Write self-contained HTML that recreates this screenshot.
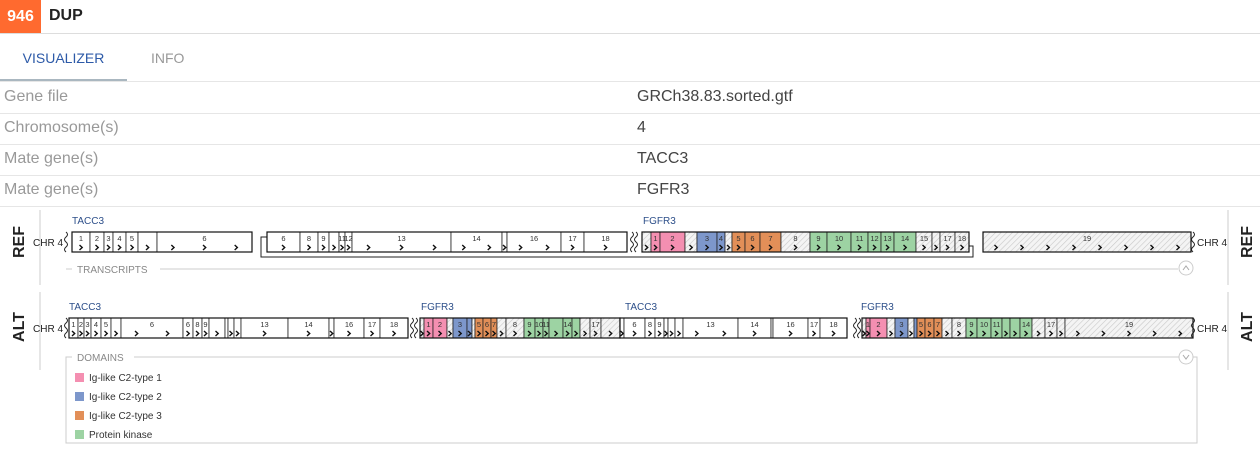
<!DOCTYPE html>
<html><head><meta charset="utf-8">
<style>
body{margin:0;width:1260px;height:459px;background:#fff;font-family:"Liberation Sans",sans-serif;overflow:hidden;position:relative}
.abs{position:absolute}
.row{position:absolute;left:0;width:1260px;height:31px;border-bottom:1px solid #e6e6e6;font-size:16px}
.row .k{position:absolute;left:4px;top:6px;color:#999}
.row .v{position:absolute;left:637px;top:6px;color:#444}
</style></head><body>
<div class="abs" style="left:0;top:0;width:1260px;height:33px;border-bottom:1px solid #ddd">
 <div class="abs" style="left:0;top:0;width:41px;height:33px;background:#ff6a2f;color:#fff;font-weight:bold;font-size:16px;line-height:33px;text-align:center">946</div>
 <div class="abs" style="left:49px;top:7px;font-weight:bold;font-size:16px;color:#222">DUP</div>
</div>
<div class="abs" style="left:0;top:50px;width:127px;height:29px;border-bottom:2px solid #aab7c0;color:#2d5aa8;font-size:14px;text-align:center">VISUALIZER</div>
<div class="abs" style="left:151px;top:50px;color:#999;font-size:14px">INFO</div>
<div class="abs" style="left:0;top:81px;width:1260px;border-top:1px solid #e6e6e6"></div>
<div class="row" style="top:82px"><span class="k">Gene file</span><span class="v">GRCh38.83.sorted.gtf</span></div>
<div class="row" style="top:113px"><span class="k">Chromosome(s)</span><span class="v">4</span></div>
<div class="row" style="top:144px"><span class="k">Mate gene(s)</span><span class="v">TACC3</span></div>
<div class="row" style="top:175px"><span class="k">Mate gene(s)</span><span class="v">FGFR3</span></div>

<svg id="viz" class="abs" style="left:0;top:0" width="1260" height="459" font-family="Liberation Sans, sans-serif">
<defs>
<pattern id="hatch" width="4" height="4" patternUnits="userSpaceOnUse" patternTransform="rotate(45)">
<rect width="4" height="4" fill="#f4f4f4"/><line x1="0" y1="0" x2="0" y2="4" stroke="#c8c8c8" stroke-width="1.2"/></pattern>
</defs>
<g>
<text x="24" y="242" transform="rotate(-90 24 242)" text-anchor="middle" font-size="16" font-weight="bold" fill="#222">REF</text>
<line x1="40" y1="210" x2="40" y2="285" stroke="#ccc"/>
<text x="1252" y="242" transform="rotate(-90 1252 242)" text-anchor="middle" font-size="16" font-weight="bold" fill="#222">REF</text>
<line x1="1228" y1="210" x2="1228" y2="285" stroke="#ccc"/>
</g>
<g>
<text x="24" y="327" transform="rotate(-90 24 327)" text-anchor="middle" font-size="16" font-weight="bold" fill="#222">ALT</text>
<line x1="40" y1="292" x2="40" y2="370" stroke="#ccc"/>
<text x="1252" y="327" transform="rotate(-90 1252 327)" text-anchor="middle" font-size="16" font-weight="bold" fill="#222">ALT</text>
<line x1="1228" y1="292" x2="1228" y2="370" stroke="#ccc"/>
</g>
<g>
<line x1="66" y1="269" x2="72" y2="269" stroke="#ccc"/>
<text x="77" y="273" font-size="10" fill="#888">TRANSCRIPTS</text>
<line x1="160" y1="269" x2="1178" y2="269" stroke="#ccc"/>
</g>
<g><circle cx="1186" cy="268" r="7" fill="#fff" stroke="#ccc"/><path d="M1183 270 L1186 266 L1189 270" fill="none" stroke="#aaa"/></g>
<g>
<rect x="66" y="357" width="1131" height="86" fill="none" stroke="#ccc"/>
<rect x="72" y="351" width="62" height="12" fill="#fff"/>
<text x="77" y="361" font-size="10" fill="#888">DOMAINS</text>
</g>
<g><circle cx="1186" cy="357" r="7" fill="#fff" stroke="#ccc"/><path d="M1183 355 L1186 359 L1189 355" fill="none" stroke="#aaa"/></g>
<g id="tracks"></g>
</svg>
<script>
const colors={P:'#f48fb1',B:'#7d97cb',O:'#e28f58',G:'#9dd3a3',H:'url(#hatch)',W:'#fff'};
const domainNames=['Ig-like C2-type 1','Ig-like C2-type 2','Ig-like C2-type 3','Protein kinase'];
const domainKeys=['P','B','O','G'];
// exon arrays: [start, end, label, fill]
const refTacc1=[[72,90,'1','W'],[90,104,'2','W'],[104,113,'3','W'],[113,126,'4','W'],[126,138,'5','W'],[138,157,'','W'],[157,252,'6','W']];
const refTacc2=[[267,300,'6','W'],[300,318,'8','W'],[318,329,'9','W'],[329,339,'','W'],[339,345,'11','W'],[345,352,'12','W'],[352,451,'13','W'],[451,502,'14','W'],[502,507,'','W'],[507,561,'16','W'],[561,584,'17','W'],[584,627,'18','W']];
const refFgfr=[[642,651,'','H'],[651,660,'1','P'],[660,685,'2','P'],[685,697,'','H'],[697,717,'3','B'],[717,725,'4','B'],[725,732,'','H'],[732,745,'5','O'],[745,760,'6','O'],[760,781,'7','O'],[781,810,'8','H'],[810,827,'9','G'],[827,851,'10','G'],[851,868,'11','G'],[868,881,'12','G'],[881,894,'13','G'],[894,916,'14','G'],[916,932,'15','H'],[932,940,'','H'],[940,955,'17','H'],[955,969,'18','H']];
const refFgfr19=[[983,1191,'19','H']];
const altTacc1=[[69,78,'1','W'],[78,84,'2','W'],[84,91,'3','W'],[91,101,'4','W'],[101,111,'5','W'],[111,121,'','W'],[121,183,'6','W'],[183,193,'6','W'],[193,202,'8','W'],[202,209,'9','W'],[209,225,'','W'],[225,228,'','W'],[228,234,'','W'],[234,241,'','W'],[241,288,'13','W'],[288,329,'14','W'],[329,334,'','W'],[334,364,'16','W'],[364,380,'17','W'],[380,408,'18','W']];
const altFgfr1=[[420,424,'','H'],[424,433,'1','P'],[433,447,'2','P'],[447,453,'','H'],[453,467,'3','B'],[467,472,'','B'],[472,475,'','H'],[475,483,'5','O'],[483,491,'6','O'],[491,497,'7','O'],[497,506,'','H'],[506,524,'8','H'],[524,535,'9','G'],[535,543,'10','G'],[543,549,'11','G'],[549,563,'','G'],[563,572,'14','G'],[572,580,'','G'],[580,590,'','H'],[590,601,'17','H'],[601,620,'','H']];
const altTacc2=[[620,624,'','W'],[624,645,'6','W'],[645,655,'8','W'],[655,664,'9','W'],[664,668,'','W'],[668,675,'','W'],[675,683,'','W'],[683,738,'13','W'],[738,771,'14','W'],[771,773,'','W'],[773,808,'16','W'],[808,820,'17','W'],[820,847,'18','W']];
const altFgfr2=[[862,866,'','H'],[866,870,'1','P'],[870,887,'2','P'],[887,895,'','H'],[895,908,'3','B'],[908,914,'','H'],[914,917,'','B'],[917,925,'5','O'],[925,934,'6','O'],[934,942,'7','O'],[942,952,'','H'],[952,966,'8','H'],[966,977,'9','G'],[977,991,'10','G'],[991,1002,'11','G'],[1002,1010,'','G'],[1010,1020,'','G'],[1020,1032,'14','G'],[1032,1045,'','H'],[1045,1057,'17','H'],[1057,1065,'','H'],[1065,1193,'19','H']];
const tracks=[
 {y:232,ex:refTacc1},{y:232,ex:refTacc2},{y:232,ex:refFgfr},{y:232,ex:refFgfr19},
 {y:318,ex:altTacc1},{y:318,ex:altFgfr1},{y:318,ex:altTacc2},{y:318,ex:altFgfr2}];
const geneLabels=[[72,224,'TACC3'],[643,224,'FGFR3'],[69,310,'TACC3'],[421,310,'FGFR3'],[625,310,'TACC3'],[861,310,'FGFR3']];
const chrLabels=[[33,246,'CHR 4'],[1197,246,'CHR 4'],[33,332,'CHR 4'],[1197,332,'CHR 4']];
const breaks=[[66,232],[632,232],[1193,232],[66,318],[412,318],[855,318],[1193,318]];
const NS='http://www.w3.org/2000/svg';
const g=document.getElementById('tracks');
function mk(t,a,p){const e=document.createElementNS(NS,t);for(const k in a)e.setAttribute(k,a[k]);(p||g).appendChild(e);return e;}
// REF connector brackets
mk('path',{d:'M267 237 L261 237 L261 257 L973 257 L973 246 L969 246',fill:'none',stroke:'#222','stroke-width':1});
tracks.forEach((t,ti)=>{
 const grp=mk('g',{});
 
 
 t.ex.forEach(e=>{
  const [a,b,lab,c]=e;
  const r=mk('rect',{x:a,y:t.y,width:b-a,height:20,fill:colors[c],stroke:'#222','stroke-width':0.8},grp);
  
  
  if(lab){const tx=mk('text',{x:(a+b)/2,y:t.y+9,'font-size':7.5,'text-anchor':'middle',fill:'#333'},grp);tx.textContent=lab;}
  const w=b-a;const n=Math.max(1,Math.floor(w/25));
  if(w>=4){for(let i=0;i<n;i++){const cx=a+w*(i+0.5)/n;mk('path',{d:`M${cx-1.5} ${t.y+13} L${cx+1.2} ${t.y+15.5} L${cx-1.5} ${t.y+18}`,fill:'none',stroke:'#111','stroke-width':1.4},grp);}}
 });
 const x0=t.ex[0][0],x1=t.ex[t.ex.length-1][1];
 mk('rect',{x:x0,y:t.y,width:x1-x0,height:20,fill:'none',stroke:'#111','stroke-width':1.2},grp);
});
breaks.forEach(b=>{const [x,y]=b;for(let k=0;k<(x>1190||x<70?1:2);k++){const xx=x+k*4;mk('path',{d:`M${xx} ${y} q3 2.5 0 5 q-3 2.5 0 5 q3 2.5 0 5 q-3 2.5 0 5`,fill:'none',stroke:'#222','stroke-width':1});}});
geneLabels.forEach(l=>{const t=mk('text',{x:l[0],y:l[1],'font-size':10,fill:'#2d4f8a'});t.textContent=l[2];});
chrLabels.forEach(l=>{const t=mk('text',{x:l[0],y:l[1],'font-size':10,fill:'#222'});t.textContent=l[2];});
domainNames.forEach((nm,i)=>{const y=373+i*19;
 const r=mk('rect',{x:75,y:y,width:9,height:9,fill:colors[domainKeys[i]]});
 
 
 const t=mk('text',{x:89,y:y+8,'font-size':10,fill:'#333'});t.textContent=nm;
 
 });
</script>
</body></html>
